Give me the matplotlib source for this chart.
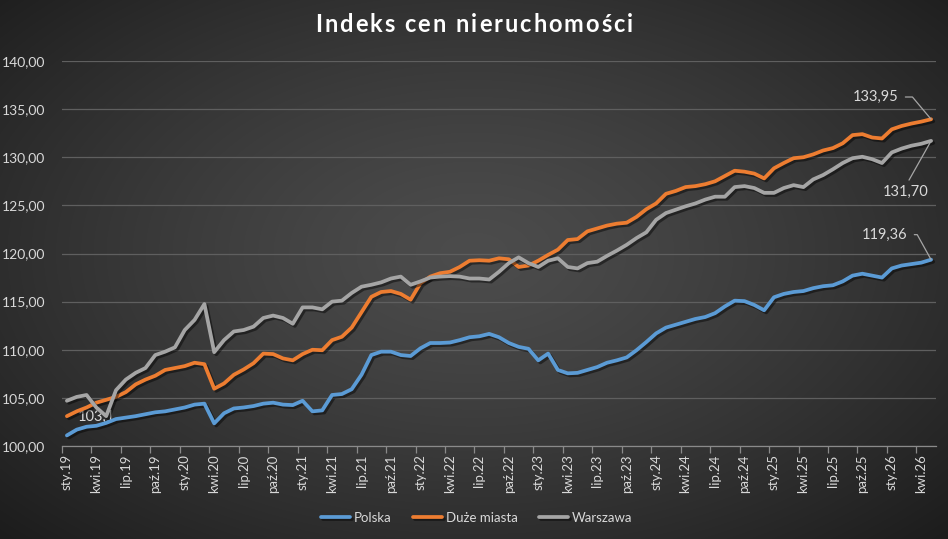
import numpy as np
import matplotlib
matplotlib.use("Agg")
import matplotlib.pyplot as plt
import matplotlib.patheffects as pe

plt.rcParams['font.family'] = ['Lato', 'DejaVu Sans']

title = "Indeks cen nieruchomości"
series_names = ["Polska", "Duże miasta", "Warszawa"]

polska = [101.1, 101.7, 102.0, 102.1, 102.4, 102.8, 102.95, 103.1, 103.3, 103.5,
          103.6, 103.8, 104.0, 104.3, 104.4, 102.35, 103.4, 103.9, 104.0, 104.15,
          104.4, 104.5, 104.3, 104.25, 104.7, 103.6, 103.7, 105.3, 105.4, 105.9,
          107.4, 109.45, 109.8, 109.8, 109.45, 109.35, 110.15, 110.7, 110.7, 110.75,
          111.0, 111.3, 111.4, 111.65, 111.3, 110.7, 110.3, 110.1, 108.9, 109.6,
          107.9, 107.55, 107.6, 107.9, 108.2, 108.65, 108.9, 109.2, 109.95, 110.8,
          111.7, 112.3, 112.6, 112.9, 113.2, 113.4, 113.8, 114.5, 115.1, 115.05,
          114.65, 114.1, 115.45, 115.8, 116.0, 116.1, 116.4, 116.6, 116.7, 117.1,
          117.7, 117.9, 117.7, 117.5, 118.45, 118.75, 118.9, 119.05, 119.36]

duze_miasta = [103.1, 103.6, 104.0, 104.5, 104.8, 105.1, 105.6, 106.4, 106.9, 107.3,
               107.9, 108.1, 108.3, 108.65, 108.5, 105.95, 106.5, 107.4, 107.95, 108.6,
               109.6, 109.55, 109.1, 108.9, 109.55, 110.0, 109.95, 111.0, 111.35, 112.3,
               113.9, 115.5, 116.0, 116.1, 115.8, 115.2, 116.9, 117.6, 117.95, 118.1,
               118.6, 119.25, 119.3, 119.25, 119.5, 119.4, 118.6, 118.75, 119.25, 119.85,
               120.4, 121.4, 121.5, 122.3, 122.6, 122.9, 123.1, 123.2, 123.8, 124.6,
               125.2, 126.2, 126.5, 126.9, 127.0, 127.2, 127.5, 128.05, 128.6, 128.5,
               128.3, 127.8, 128.85, 129.4, 129.9, 130.0, 130.3, 130.7, 130.95, 131.45,
               132.3, 132.4, 132.05, 131.95, 132.9, 133.25, 133.5, 133.7, 133.95]

warszawa = [104.7, 105.1, 105.3, 104.0, 103.1, 105.8, 106.9, 107.6, 108.1, 109.45,
            109.8, 110.25, 112.05, 113.1, 114.75, 109.75, 111.0, 111.9, 112.05, 112.4,
            113.3, 113.55, 113.3, 112.7, 114.4, 114.4, 114.2, 115.0, 115.1, 115.9,
            116.55, 116.75, 117.0, 117.4, 117.6, 116.75, 117.1, 117.5, 117.6, 117.65,
            117.6, 117.4, 117.4, 117.3, 118.1, 119.0, 119.6, 119.0, 118.6, 119.25,
            119.5, 118.6, 118.45, 119.0, 119.15, 119.75, 120.3, 120.9, 121.6, 122.2,
            123.5, 124.2, 124.55, 124.9, 125.2, 125.6, 125.9, 125.9, 126.9, 127.0,
            126.8, 126.3, 126.3, 126.8, 127.1, 126.9, 127.7, 128.15, 128.75, 129.4,
            129.9, 130.05, 129.8, 129.4, 130.5, 130.9, 131.2, 131.4, 131.70]

tick_labels = ["sty.19", "kwi.19", "lip.19", "paź.19", "sty.20", "kwi.20", "lip.20", "paź.20",
               "sty.21", "kwi.21", "lip.21", "paź.21", "sty.22", "kwi.22", "lip.22", "paź.22",
               "sty.23", "kwi.23", "lip.23", "paź.23", "sty.24", "kwi.24", "lip.24", "paź.24",
               "sty.25", "kwi.25", "lip.25", "paź.25", "sty.26", "kwi.26"]

y_ticks = [100, 105, 110, 115, 120, 125, 130, 135, 140]

colors = ["#5B9BD5", "#ED7D31", "#A5A5A5"]
text_col = "#d9d9d9"

W, H = 948, 539
fig = plt.figure(figsize=(W / 100, H / 100), dpi=100)

# radial gradient background
bg = fig.add_axes([0, 0, 1, 1], zorder=-10)
yy, xx = np.mgrid[0:1:H * 1j, 0:1:W * 1j]
d = np.sqrt(((xx - 0.5) / 0.5) ** 2 + ((yy - 0.47) / 0.53) ** 2) / np.sqrt(2)
v = (0x4c - (0x4c - 0x1c) * np.clip(d, 0, 1) ** 1.3) / 255.0
bg.imshow(np.dstack([v, v, v]), aspect='auto', extent=[0, 1, 0, 1])
bg.set_axis_off()

ax = fig.add_axes([62 / W, 1 - 446 / H, (936 - 62) / W, (446 - 61) / H])
ax.patch.set_alpha(0)

x = np.arange(len(polska))
shadow = [pe.SimpleLineShadow(offset=(1.5, -1.5), shadow_color='black', alpha=0.45),
          pe.Normal()]
for vals, name, c in zip([polska, duze_miasta, warszawa], series_names, colors):
    ax.plot(x, vals, color=c, lw=2.7, label=name, solid_joinstyle='round',
            solid_capstyle='round', path_effects=shadow, zorder=3)

ax.set_xlim(-0.5, len(polska) - 0.5)
ax.set_ylim(100, 140)
ax.set_yticks(y_ticks)
ax.set_yticklabels([f"{t:.2f}".replace('.', ',') for t in y_ticks])
ax.yaxis.grid(True, color='#5f5f5f', lw=0.9)
ax.set_axisbelow(True)
for s in ['top', 'right', 'left']:
    ax.spines[s].set_visible(False)
ax.spines['bottom'].set_color('#8a8a8a')
ax.spines['bottom'].set_linewidth(0.9)

ax.set_xticks(np.arange(0, len(polska), 3))
ax.set_xticklabels(tick_labels, rotation=90)
ax.set_xticks(np.arange(-0.5, len(polska), 3), minor=True)
ax.tick_params(axis='x', which='major', length=0, pad=6, labelsize=9.5, labelcolor=text_col)
ax.tick_params(axis='x', which='minor', length=5, color='#8a8a8a', width=0.9)
ax.tick_params(axis='y', length=0, pad=12, labelsize=10, labelcolor=text_col)

# data labels
lab_kw = dict(fontsize=10.5, color=text_col, textcoords='offset points')
ax.annotate("103,1", xy=(4, warszawa[4]), xytext=(-7, -0.5), ha='center', va='center',
            zorder=2, **lab_kw)
last = len(polska) - 1
ax.annotate("133,95", xy=(last, duze_miasta[last]), xytext=(-40, 16), ha='center', va='center',
            arrowprops=dict(arrowstyle='-', color='#a6a6a6', lw=0.9, relpos=(1, 0.5),
                            shrinkA=3, shrinkB=0,
                            connectionstyle='angle,angleA=0,angleB=130,rad=0'), **lab_kw)
ax.annotate("131,70", xy=(last, warszawa[last]), xytext=(-18, -37), ha='center', va='center',
            arrowprops=dict(arrowstyle='-', color='#a6a6a6', lw=0.9, relpos=(0.5, 1),
                            shrinkA=2, shrinkB=0), **lab_kw)
ax.annotate("119,36", xy=(last, polska[last]), xytext=(-33.5, 18), ha='center', va='center',
            arrowprops=dict(arrowstyle='-', color='#a6a6a6', lw=0.9, relpos=(1, 0.5),
                            shrinkA=3, shrinkB=0,
                            connectionstyle='angle,angleA=0,angleB=119,rad=0'), **lab_kw)

# title with letter spacing (tracking), centred on the figure
renderer = fig.canvas.get_renderer()
t_kw = dict(fontsize=17, fontweight='bold', color='white', va='center', ha='left')
tracking = 2.0  # px between glyphs


def char_width(ch):
    if ch == ' ':
        a = fig.text(0, 0, "a a", **t_kw)
        b = fig.text(0, 0, "aa", **t_kw)
        w = a.get_window_extent(renderer).width - b.get_window_extent(renderer).width
        a.remove(); b.remove()
        return w
    t = fig.text(0, 0, ch, **t_kw)
    w = t.get_window_extent(renderer).width
    t.remove()
    return w


widths = [char_width(ch) for ch in title]
total = sum(widths) + tracking * (len(title) - 1)
xpos = W / 2 - total / 2
ty = 1 - 25 / H
for ch, w in zip(title, widths):
    if ch != ' ':
        fig.text(xpos / W, ty, ch, **t_kw)
    xpos += w + tracking

leg = fig.legend(loc='center', bbox_to_anchor=(0.503, 1 - 518 / H), ncol=3, frameon=False,
                 handlelength=2.2, handletextpad=0.3, columnspacing=1.6, fontsize=9.5)
for t in leg.get_texts():
    t.set_color(text_col)

fig.savefig("out.png", dpi=100)
